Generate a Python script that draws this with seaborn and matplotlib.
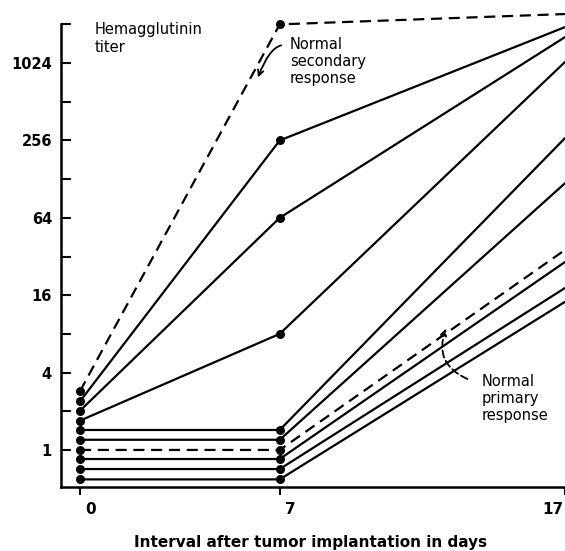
import numpy as np
import pandas as pd
import seaborn as sns
import matplotlib.pyplot as plt
import matplotlib.transforms as mtransforms

# DATA
days = [0, 7, 17]
secondary = [2.87, 2048, 2465]      # normal secondary response (dashed)
tumor_a = [2.39, 256, 1950]
tumor_b = [2.02, 64, 1630]
tumor_c = [1.69, 8, 1044]
tumor_d = [1.43, 1.43, 267]
tumor_e = [1.2, 1.2, 119]
primary = [1.0, 1.0, 36]            # normal primary response (dashed)
tumor_f = [0.85, 0.85, 29]
tumor_g = [0.71, 0.71, 18.2]
tumor_h = [0.59, 0.59, 14.2]

major_ticks = [1, 4, 16, 64, 256, 1024]
minor_ticks = [2, 8, 32, 128, 512, 2048]
x_ticks = [0, 7, 17]

series = [
    ('secondary', secondary, True),
    ('a', tumor_a, False),
    ('b', tumor_b, False),
    ('c', tumor_c, False),
    ('d', tumor_d, False),
    ('e', tumor_e, False),
    ('primary', primary, True),
    ('f', tumor_f, False),
    ('g', tumor_g, False),
    ('h', tumor_h, False),
]

rows = []
for name, vals, dashed in series:
    for d, v in zip(days, vals):
        rows.append({'group': name, 'day': d, 'titer': v, 'dashed': dashed})
df = pd.DataFrame(rows)

sns.set_style('white')
plt.rcParams['font.family'] = ['DejaVu Sans']
plt.rcParams['text.color'] = 'black'
plt.rcParams['axes.labelcolor'] = 'black'
plt.rcParams['xtick.color'] = 'black'
plt.rcParams['ytick.color'] = 'black'

fig = plt.figure(figsize=(5.65, 5.51), dpi=100)
ax = fig.add_axes([0.108, 0.116, 0.892, 0.884])

# lines
for name, grp in df.groupby('group', sort=False):
    ls = (0, (5, 3)) if grp['dashed'].iloc[0] else '-'
    sns.lineplot(data=grp, x='day', y='titer', ax=ax, color='black',
                 lw=1.6, linestyle=ls, legend=False, estimator=None)

# dots at day 0 and day 7
pts = df[df['day'] < 17]
sns.scatterplot(data=pts, x='day', y='titer', ax=ax, color='black',
                s=42, edgecolor='black', linewidth=0, legend=False, zorder=5)

ax.set_yscale('log', base=2)
ax.set_xlim(-0.666, 17)
ax.set_ylim(2 ** -0.96, 2 ** 11.63)

ax.set_yticks(major_ticks)
ax.set_yticklabels([str(t) for t in major_ticks])
ax.set_yticks(minor_ticks, minor=True)
ax.yaxis.set_minor_formatter(plt.NullFormatter())
ax.tick_params(axis='y', which='both', direction='in', length=7, width=1.5,
               pad=6.5, labelsize=10.5, left=True, colors='black')
for lab in ax.get_yticklabels():
    lab.set_fontweight('bold')

ax.set_xticks(x_ticks)
ax.set_xticklabels([str(t) for t in x_ticks])
ax.tick_params(axis='x', direction='out', length=6, width=1.5, pad=5,
               labelsize=11, bottom=True, colors='black')
shifts = [11, 11, -2]
for lab, sh in zip(ax.get_xticklabels(), shifts):
    lab.set_fontweight('bold')
    off = mtransforms.ScaledTranslation(sh / 100, 0, fig.dpi_scale_trans)
    lab.set_transform(lab.get_transform() + off)
ax.get_xticklabels()[-1].set_horizontalalignment('right')

for s in ['top', 'right']:
    ax.spines[s].set_visible(False)
for s in ['left', 'bottom']:
    ax.spines[s].set_linewidth(1.8)
    ax.spines[s].set_color('black')
ax.spines['left'].set_bounds(2 ** -0.96, 2048)

ax.set_xlabel('Interval after tumor implantation in days', fontsize=11,
              fontweight='bold', color='black')
ax.set_ylabel('')
ax.xaxis.set_label_coords(0.496, -0.098)

# annotations (axes fraction)
def fx(px):
    return (px - 61) / 504

def fy(py):
    return (487 - py) / 487

ax.text(fx(95), fy(22), 'Hemagglutinin\ntiter', transform=ax.transAxes,
        fontsize=10.5, va='top', ha='left', linespacing=1.25, color='black')
ax.text(fx(290), fy(37), 'Normal\nsecondary\nresponse', transform=ax.transAxes,
        fontsize=10.5, va='top', ha='left', linespacing=1.15, color='black')
ax.text(fx(482), fy(374), 'Normal\nprimary\nresponse', transform=ax.transAxes,
        fontsize=10.5, va='top', ha='left', linespacing=1.15, color='black')

ax.annotate('', xy=(fx(257), fy(80)), xytext=(fx(284), fy(45)),
            xycoords='axes fraction', textcoords='axes fraction',
            arrowprops=dict(arrowstyle='->', color='black', lw=1.3,
                            connectionstyle='angle3,angleA=180,angleB=70'))
ax.annotate('', xy=(fx(447), fy(326)), xytext=(fx(470), fy(380)),
            xycoords='axes fraction', textcoords='axes fraction',
            arrowprops=dict(arrowstyle='->', color='black', lw=1.3,
                            linestyle=(0, (4, 2)),
                            connectionstyle='arc3,rad=-0.5'))

fig.savefig('out.png', dpi=100)
